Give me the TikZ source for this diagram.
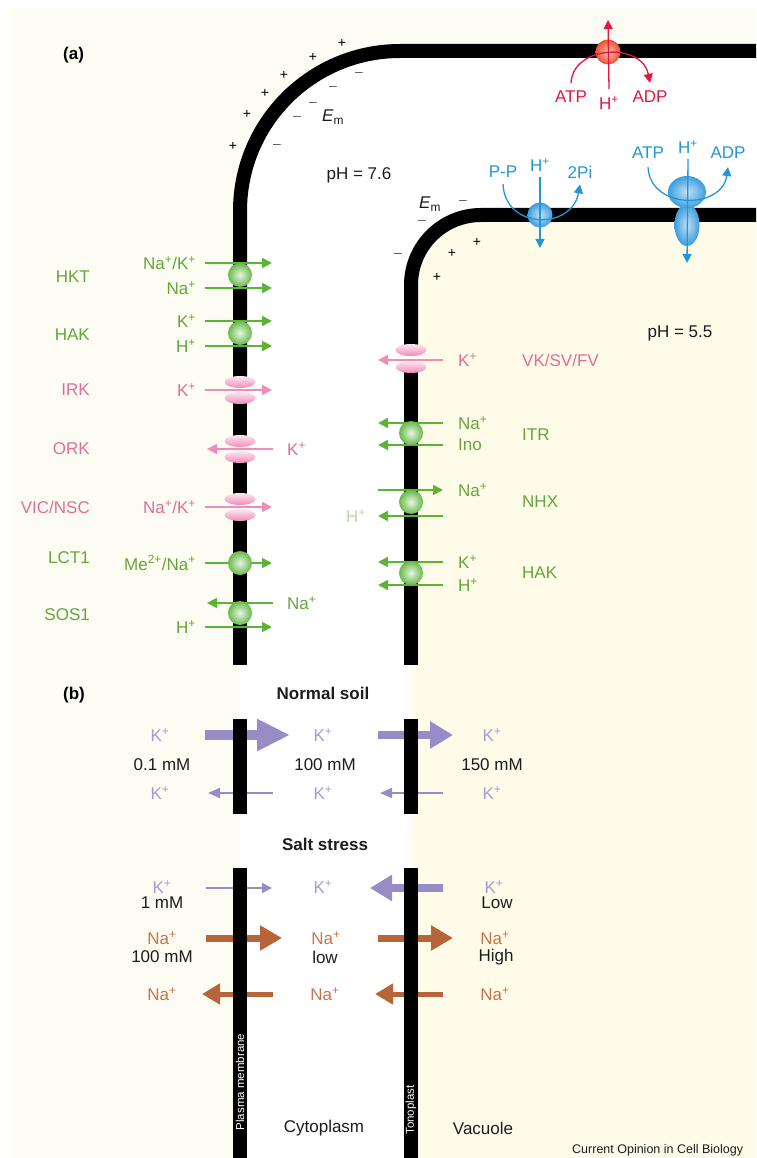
\documentclass[tikz,border=0pt]{standalone}
\usepackage{fontspec}
\setmainfont{Liberation Sans}
\usetikzlibrary{arrows.meta,shapes.geometric}

\definecolor{outcream}{RGB}{252,252,243}
\definecolor{vaccream}{RGB}{254,251,233}
\definecolor{trgreen}{RGB}{92,180,52}
\definecolor{txgreen}{RGB}{100,166,60}
\definecolor{balgreen}{RGB}{105,185,75}
\definecolor{palegreen}{RGB}{186,220,168}
\definecolor{chpink}{RGB}{240,140,185}
\definecolor{txpink}{RGB}{225,110,150}
\definecolor{kpurple}{RGB}{152,140,198}
\definecolor{txpurple}{RGB}{165,155,212}
\definecolor{nabrown}{RGB}{182,100,56}
\definecolor{txbrown}{RGB}{196,118,78}
\definecolor{pumpred}{RGB}{228,22,62}
\definecolor{balred}{RGB}{236,80,50}
\definecolor{pumpblue}{RGB}{36,150,214}
\definecolor{balblue}{RGB}{60,158,222}
\definecolor{inktxt}{RGB}{28,28,28}

\begin{document}
\begin{tikzpicture}[
    x=1pt, y=-1pt,
    font=\fontsize{17}{20}\selectfont,
    lbl/.style={inner sep=0pt},
    sgn/.style={inner sep=0pt, font=\fontsize{14}{16}\selectfont},
    mem/.style={line width=14pt},
    garr/.style={draw=trgreen, line width=1.8pt, -{Triangle[length=10pt,width=10pt]}},
    parr/.style={draw=chpink, line width=1.8pt, -{Triangle[length=10pt,width=10pt]}},
    gball/.style={circle, minimum size=24pt, inner sep=0pt, inner color=balgreen!15!white, outer color=balgreen},
    chan/.style={ellipse, minimum width=31pt, minimum height=12pt, inner sep=0pt,
                 top color=chpink!20!white, bottom color=chpink},
    rline/.style={draw=pumpred, line width=1.3pt},
    bline/.style={draw=pumpblue, line width=1.3pt},
    ptip/.style={-{Triangle[length=9pt,width=9pt]}},
    kbig/.style={draw=kpurple, line width=10pt, -{Triangle[length=33pt,width=30pt]}},
    kmid/.style={draw=kpurple, line width=8pt, -{Triangle[length=23pt,width=26pt]}},
    kthin/.style={draw=kpurple, line width=1.8pt, -{Triangle[length=12pt,width=10pt]}},
    nabig/.style={draw=nabrown, line width=7pt, -{Triangle[length=22pt,width=24pt]}},
    naback/.style={draw=nabrown, line width=5pt, -{Triangle[length=18pt,width=20pt]}},
    bartxt/.style={inner sep=0pt, white, rotate=90, font=\fontsize{11.5}{12}\selectfont},
  ]
  \useasboundingbox (0,0) rectangle (756,1158);
  \begin{scope}
    \clip (0,0) rectangle (756,1158);

    % outside, cytoplasm, vacuole
    \fill[white] (0,0) rectangle (756,1158);
    \fill[outcream] (11,8) rectangle (756,1158);
    \fill[white] (240,1158) -- (240,211) .. controls (240,122.6) and (311.6,51) .. (400,51)
      -- (756,51) -- (756,1158) -- cycle;
    \fill[vaccream] (411,1158) -- (411,285) .. controls (411,246.3) and (442.3,215) .. (481,215)
      -- (756,215) -- (756,1158) -- cycle;

    % ---- (a) membranes, broken at the channels
    \draw[mem] (240,385) -- (240,211) .. controls (240,122.6) and (311.6,51) .. (400,51) -- (770,51);
    \draw[mem] (240,395) -- (240,444);
    \draw[mem] (240,454) -- (240,502);
    \draw[mem] (240,512) -- (240,665);
    \draw[mem] (411,355) -- (411,285) .. controls (411,246.3) and (442.3,215) .. (481,215) -- (770,215);
    \draw[mem] (411,365) -- (411,665);

    \node[lbl, font=\bfseries\fontsize{17}{20}\selectfont, anchor=west] (pa) at (63,55) {(a)};

    % membrane potential signs
    \foreach \px/\py in {342/43, 313/57, 284/75, 265/93, 247/114, 233/146, 477/242, 452/253, 437/277}
      \node[sgn] at (\px,\py) {+};
    \foreach \mx/\my in {359/74, 333/88, 313/104, 297/118, 277/146, 463/202, 422/222, 398/255}
      \node[sgn, black!65] at (\mx,\my) {--};
    \node[lbl, inktxt] (emPM) at (333,117) {\textit{E}\textsubscript{m}};
    \node[lbl, inktxt] (emTP) at (430,204) {\textit{E}\textsubscript{m}};
    \node[lbl, inktxt] (phOut) at (359,175) {pH = 7.6};
    \node[lbl, inktxt] (phVac) at (680,333) {pH = 5.5};

    % plasma membrane H+-ATPase
    \node[lbl, pumpred] (rATP) at (571,97) {ATP};
    \node[lbl, pumpred] (rH) at (609,103) {H\textsuperscript{+}};
    \node[lbl, pumpred] (rADP) at (650,97) {ADP};
    \coordinate (rTop) at (608,20);
    \node[circle, minimum size=25pt, inner sep=0pt, inner color=balred!35!white, outer color=balred] (pmATPase) at (608,52) {};
    \draw[rline, ptip] ([yshift=7pt]rH.north) -- (rTop);
    \draw[rline, ptip] ([yshift=8pt]rATP.north) .. controls (573,45) and (642,42) .. ([yshift=8pt]rADP.north);

    % tonoplast H+-PPase and V-ATPase
    \node[lbl, pumpblue] (bPP) at (503,172) {P-P};
    \node[lbl, pumpblue] (bH1) at (540,165) {H\textsuperscript{+}};
    \node[lbl, pumpblue] (b2Pi) at (580,172) {2Pi};
    \coordinate (ppBot) at (540,248);
    \node[circle, minimum size=25pt, inner sep=0pt, inner color=balblue!30!white, outer color=balblue] (ppase) at (540,215) {};
    \draw[bline, ptip] ([yshift=-5pt]bH1.south) -- (ppBot);
    \draw[bline, ptip] ([yshift=-6pt]bPP.south) .. controls (505,230) and (572,230) .. ([yshift=-6pt]b2Pi.south);

    \node[lbl, pumpblue] (bATP) at (648,153) {ATP};
    \node[lbl, pumpblue] (bH2) at (688,147) {H\textsuperscript{+}};
    \node[lbl, pumpblue] (bADP) at (728,153) {ADP};
    \coordinate (vBot) at (687,263);
    \node[ellipse, minimum width=25pt, minimum height=42pt, inner sep=0pt, inner color=balblue!30!white, outer color=balblue] (vStalk) at (687,225) {};
    \node[ellipse, minimum width=38pt, minimum height=32pt, inner sep=0pt, inner color=balblue!30!white, outer color=balblue] (vHead) at (687,192) {};
    \draw[bline, ptip] ([yshift=-5pt]bH2.south) -- (vBot);
    \draw[bline, ptip] ([yshift=-8pt]bATP.south) .. controls (650,210) and (722,210) .. ([yshift=-8pt]bADP.south);

    % plasma membrane transporters: names
    \node[lbl, txgreen, anchor=east] (nHKT) at (90,277) {HKT};
    \node[lbl, txgreen, anchor=east] (nHAK) at (90,335) {HAK};
    \node[lbl, txpink, anchor=east] (nIRK) at (90,390) {IRK};
    \node[lbl, txpink, anchor=east] (nORK) at (90,449) {ORK};
    \node[lbl, txpink, anchor=east] (nVIC) at (90,507) {VIC/NSC};
    \node[lbl, txgreen, anchor=east] (nLCT) at (90,558) {LCT1};
    \node[lbl, txgreen, anchor=east] (nSOS) at (90,615) {SOS1};

    % plasma membrane transporters: ions
    \node[lbl, txgreen, anchor=east] (hktNaK) at (196,263) {Na\textsuperscript{+}/K\textsuperscript{+}};
    \node[lbl, txgreen, anchor=east] (hktNa) at (196,288) {Na\textsuperscript{+}};
    \node[lbl, txgreen, anchor=east] (hakK) at (196,321) {K\textsuperscript{+}};
    \node[lbl, txgreen, anchor=east] (hakH) at (196,346) {H\textsuperscript{+}};
    \node[lbl, txpink, anchor=east] (irkK) at (196,390) {K\textsuperscript{+}};
    \node[lbl, txpink, anchor=west] (orkK) at (287,449) {K\textsuperscript{+}};
    \node[lbl, txpink, anchor=east] (vicNaK) at (196,507) {Na\textsuperscript{+}/K\textsuperscript{+}};
    \node[lbl, txgreen, anchor=east] (lctMe) at (196,563) {Me\textsuperscript{2+}/Na\textsuperscript{+}};
    \node[lbl, txgreen, anchor=west] (sosNa) at (287,603) {Na\textsuperscript{+}};
    \node[lbl, txgreen, anchor=east] (sosH) at (196,627) {H\textsuperscript{+}};

    \draw[garr] ([xshift=9pt]hktNaK.east) -- ++(67,0);
    \draw[garr] ([xshift=9pt]hktNa.east) -- ++(67,0);
    \draw[garr] ([xshift=9pt]hakK.east) -- ++(67,0);
    \draw[garr] ([xshift=9pt]hakH.east) -- ++(67,0);
    \draw[parr] ([xshift=9pt]irkK.east) -- ++(67,0);
    \draw[parr] ([xshift=-14pt]orkK.west) -- ++(-66,0);
    \draw[parr] ([xshift=9pt]vicNaK.east) -- ++(67,0);
    \draw[garr] ([xshift=9pt]lctMe.east) -- ++(67,0);
    \draw[garr] ([xshift=-14pt]sosNa.west) -- ++(-66,0);
    \draw[garr] ([xshift=9pt]sosH.east) -- ++(67,0);

    \node[gball] (hkt) at (240,275) {};
    \node[gball] (hakPM) at (240,333) {};
    \node[chan] (irkU) at (240,382) {};
    \node[chan] (irkD) at (240,398) {};
    \node[chan] (orkU) at (240,441) {};
    \node[chan] (orkD) at (240,457) {};
    \node[chan] (vicU) at (240,499) {};
    \node[chan] (vicD) at (240,515) {};
    \node[gball] (lct) at (240,563) {};
    \node[gball] (sos) at (240,613) {};

    % tonoplast transporters
    \node[lbl, txpink, anchor=west] (vkK) at (458,360) {K\textsuperscript{+}};
    \node[lbl, txpink, anchor=west] (nVK) at (522,360) {VK/SV/FV};
    \node[lbl, txgreen, anchor=west] (itrNa) at (458,423) {Na\textsuperscript{+}};
    \node[lbl, txgreen, anchor=west] (itrIno) at (458,445) {Ino};
    \node[lbl, txgreen, anchor=west] (nITR) at (522,435) {ITR};
    \node[lbl, txgreen, anchor=west] (nhxNa) at (458,490) {Na\textsuperscript{+}};
    \node[lbl, palegreen, anchor=east] (nhxH) at (366,516) {H\textsuperscript{+}};
    \node[lbl, txgreen, anchor=west] (nNHX) at (522,502) {NHX};
    \node[lbl, txgreen, anchor=west] (hakTK) at (458,562) {K\textsuperscript{+}};
    \node[lbl, txgreen, anchor=west] (hakTH) at (458,585) {H\textsuperscript{+}};
    \node[lbl, txgreen, anchor=west] (nHAKt) at (522,573) {HAK};

    \draw[parr] ([xshift=-15pt]vkK.west) -- ++(-65,0);
    \draw[garr] ([xshift=-15pt]itrNa.west) -- ++(-65,0);
    \draw[garr] ([xshift=-15pt]itrIno.west) -- ++(-65,0);
    \draw[garr] ([xshift=-80pt]nhxNa.west) -- ++(65,0);
    \draw[garr] ([xshift=77pt]nhxH.east) -- ++(-65,0);
    \draw[garr] ([xshift=-15pt]hakTK.west) -- ++(-65,0);
    \draw[garr] ([xshift=-15pt]hakTH.west) -- ++(-65,0);

    \node[chan] (vkU) at (411,350) {};
    \node[chan] (vkD) at (411,367) {};
    \node[gball] (itr) at (411,433) {};
    \node[gball] (nhx) at (411,502) {};
    \node[gball] (hakTP) at (411,573) {};

    % ---- (b) potassium and sodium fluxes
    \node[lbl, font=\bfseries\fontsize{17}{20}\selectfont, anchor=west] (pb) at (63,695) {(b)};
    \node[lbl, inktxt, font=\bfseries\fontsize{17}{20}\selectfont] (normal) at (323,693) {Normal soil};
    \node[lbl, inktxt, font=\bfseries\fontsize{17}{20}\selectfont] (salt) at (325,844) {Salt stress};

    \node[lbl, txpurple] (nsK1) at (160,735) {K\textsuperscript{+}};
    \node[lbl, txpurple] (nsK2) at (323,735) {K\textsuperscript{+}};
    \node[lbl, txpurple] (nsK3) at (492,735) {K\textsuperscript{+}};
    \node[lbl, inktxt] (nsC1) at (162,765) {0.1 mM};
    \node[lbl, inktxt] (nsC2) at (325,765) {100 mM};
    \node[lbl, inktxt] (nsC3) at (492,765) {150 mM};
    \node[lbl, txpurple] (nsK4) at (160,793) {K\textsuperscript{+}};
    \node[lbl, txpurple] (nsK5) at (323,793) {K\textsuperscript{+}};
    \node[lbl, txpurple] (nsK6) at (492,793) {K\textsuperscript{+}};

    \node[lbl, txpurple] (ssK1) at (162,887) {K\textsuperscript{+}};
    \node[lbl, inktxt] (ssC1) at (162,903) {1 mM};
    \node[lbl, txpurple] (ssK2) at (323,887) {K\textsuperscript{+}};
    \node[lbl, txpurple] (ssK3) at (494,887) {K\textsuperscript{+}};
    \node[lbl, inktxt] (ssC3) at (497,903) {Low};
    \node[lbl, txbrown] (ssNa1) at (162,938) {Na\textsuperscript{+}};
    \node[lbl, inktxt] (ssC4) at (162,957) {100 mM};
    \node[lbl, txbrown] (ssNa2) at (326,938) {Na\textsuperscript{+}};
    \node[lbl, inktxt] (ssC5) at (325,957) {low};
    \node[lbl, txbrown] (ssNa3) at (495,938) {Na\textsuperscript{+}};
    \node[lbl, inktxt] (ssC6) at (496,957) {High};
    \node[lbl, txbrown] (ssNa4) at (162,994) {Na\textsuperscript{+}};
    \node[lbl, txbrown] (ssNa5) at (325,994) {Na\textsuperscript{+}};
    \node[lbl, txbrown] (ssNa6) at (495,994) {Na\textsuperscript{+}};

    % crossing points on the two membranes
    \coordinate (pm1) at (240,735);  \coordinate (tp1) at (411,735);
    \coordinate (pm2) at (240,793);  \coordinate (tp2) at (411,793);
    \coordinate (pm3) at (240,888);  \coordinate (tp3) at (411,888);
    \coordinate (pm4) at (240,938);  \coordinate (tp4) at (411,938);
    \coordinate (pm5) at (240,994);  \coordinate (tp5) at (411,994);

    \draw[kbig] ([xshift=-35pt]pm1) -- ([xshift=50pt]pm1);
    \draw[kmid] ([xshift=-33pt]tp1) -- ([xshift=42pt]tp1);
    \draw[kthin] ([xshift=33pt]pm2) -- ([xshift=-32pt]pm2);
    \draw[kthin] ([xshift=32pt]tp2) -- ([xshift=-31pt]tp2);
    \draw[kthin, line width=1.4pt, -{Triangle[length=10pt,width=10pt]}] ([xshift=-34pt]pm3) -- ([xshift=32pt]pm3);
    \draw[kmid, -{Triangle[length=22pt,width=25pt]}] ([xshift=32pt]tp3) -- ([xshift=-41pt]tp3);
    \draw[nabig] ([xshift=-34pt]pm4) -- ([xshift=42pt]pm4);
    \draw[nabig] ([xshift=-33pt]tp4) -- ([xshift=42pt]tp4);
    \draw[naback] ([xshift=33pt]pm5) -- ([xshift=-38pt]pm5);
    \draw[naback] ([xshift=32pt]tp5) -- ([xshift=-36pt]tp5);

    \draw[mem] (240,719) -- (240,814);
    \draw[mem] (411,719) -- (411,814);
    \draw[mem] (240,868) -- (240,1170);
    \draw[mem] (411,868) -- (411,1170);

    \node[bartxt] (pmName) at (240,1082) {Plasma membrane};
    \node[bartxt] (tpName) at (411,1110) {Tonoplast};
    \node[lbl, inktxt] (cyto) at (324,1128) {Cytoplasm};
    \node[lbl, inktxt] (vac) at (483,1128) {Vacuole};
    \node[lbl, inktxt, anchor=west, font=\fontsize{12.5}{14}\selectfont] (credit) at (572,1150) {Current Opinion in Cell Biology};
  \end{scope}
\end{tikzpicture}
\end{document}
